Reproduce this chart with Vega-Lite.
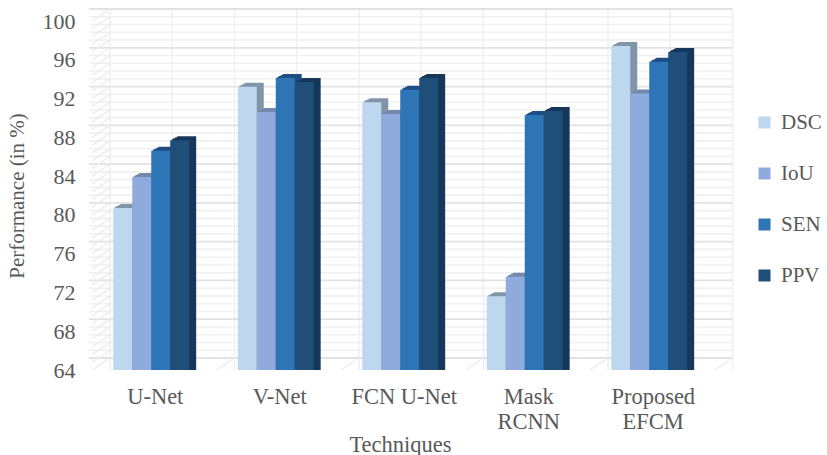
{
  "$schema": "https://vega.github.io/schema/vega-lite/v6.json",
  "width": 622.5,
  "height": 349,
  "padding": {"left": 89, "top": 21, "right": 115.5, "bottom": 85},
  "autosize": {"type": "none"},
  "background": "white",
  "config": {
    "view": {"stroke": null},
    "font": "Liberation Serif",
    "axis": {"labelFont": "Liberation Serif", "titleFont": "Liberation Serif", "labelColor": "#595959", "titleColor": "#595959", "titleFontWeight": "normal", "domain": false, "ticks": false, "grid": false},
    "axisY": {"labelOverlap": false, "labelFontSize": 22, "labelPadding": 14, "titleFontSize": 21, "titleX": -62}
  },
  "datasets": {
    "scores": [
      {"technique": "U-Net", "metric": "DSC", "score": 80.4},
      {"technique": "U-Net", "metric": "IoU", "score": 83.6},
      {"technique": "U-Net", "metric": "SEN", "score": 86.3},
      {"technique": "U-Net", "metric": "PPV", "score": 87.4},
      {"technique": "V-Net", "metric": "DSC", "score": 92.9},
      {"technique": "V-Net", "metric": "IoU", "score": 90.3},
      {"technique": "V-Net", "metric": "SEN", "score": 93.8},
      {"technique": "V-Net", "metric": "PPV", "score": 93.4},
      {"technique": "FCN U-Net", "metric": "DSC", "score": 91.3},
      {"technique": "FCN U-Net", "metric": "IoU", "score": 90.1},
      {"technique": "FCN U-Net", "metric": "SEN", "score": 92.6},
      {"technique": "FCN U-Net", "metric": "PPV", "score": 93.8},
      {"technique": "Mask RCNN", "metric": "DSC", "score": 71.3},
      {"technique": "Mask RCNN", "metric": "IoU", "score": 73.3},
      {"technique": "Mask RCNN", "metric": "SEN", "score": 90.0},
      {"technique": "Mask RCNN", "metric": "PPV", "score": 90.4},
      {"technique": "Proposed EFCM", "metric": "DSC", "score": 97.1},
      {"technique": "Proposed EFCM", "metric": "IoU", "score": 92.2},
      {"technique": "Proposed EFCM", "metric": "SEN", "score": 95.5},
      {"technique": "Proposed EFCM", "metric": "PPV", "score": 96.5}
    ]
  },
  "data": {"name": "scores"},
  "resolve": {"scale": {"x": "independent", "xOffset": "independent"}, "axis": {"x": "independent"}},
  "layer": [
    {
      "data": {"values": [{"v": 64.8}, {"v": 65.6}, {"v": 66.4}, {"v": 67.2}, {"v": 68.8}, {"v": 69.6}, {"v": 70.4}, {"v": 71.2}, {"v": 72.8}, {"v": 73.6}, {"v": 74.4}, {"v": 75.2}, {"v": 76.8}, {"v": 77.6}, {"v": 78.4}, {"v": 79.2}, {"v": 80.8}, {"v": 81.6}, {"v": 82.4}, {"v": 83.2}, {"v": 84.8}, {"v": 85.6}, {"v": 86.4}, {"v": 87.2}, {"v": 88.8}, {"v": 89.6}, {"v": 90.4}, {"v": 91.2}, {"v": 92.8}, {"v": 93.6}, {"v": 94.4}, {"v": 95.2}, {"v": 96.8}, {"v": 97.6}, {"v": 98.4}, {"v": 99.2}]},
      "mark": {"type": "rule", "color": "#f0f0f0", "strokeWidth": 1.6, "xOffset": 21, "yOffset": -12},
      "encoding": {
        "y": {"field": "v", "type": "quantitative", "scale": {"domain": [64, 100], "nice": false}, "axis": {"values": [64, 68, 72, 76, 80, 84, 88, 92, 96, 100], "title": "Performance (in %)"}}
      }
    },
    {
      "data": {"values": [{"g": 0}, {"g": 1}, {"g": 2}, {"g": 3}, {"g": 4}, {"g": 5}, {"g": 6}, {"g": 7}, {"g": 8}, {"g": 9}, {"g": 10}]},
      "mark": {"type": "rule", "color": "#f0f0f0", "strokeWidth": 1.6, "xOffset": 21, "yOffset": -12},
      "encoding": {
        "x": {"field": "g", "type": "quantitative", "scale": {"domain": [0, 10]}, "axis": null}
      }
    },
    {
      "data": {"values": [{"v": 64}, {"v": 68}, {"v": 72}, {"v": 76}, {"v": 80}, {"v": 84}, {"v": 88}, {"v": 92}, {"v": 96}, {"v": 100}]},
      "mark": {"type": "rule", "color": "#e2e2e2", "strokeWidth": 1.8, "xOffset": 21, "yOffset": -12},
      "encoding": {
        "y": {"field": "v", "type": "quantitative", "scale": {"domain": [64, 100], "nice": false}, "axis": {"values": [64, 68, 72, 76, 80, 84, 88, 92, 96, 100], "title": "Performance (in %)"}}
      }
    },
    {
      "data": {"values": [
        {"g": 0.05, "gb": 0.337, "v": 64, "vb": 65.24}, {"g": 0.05, "gb": 0.337, "v": 64.8, "vb": 66.04}, {"g": 0.05, "gb": 0.337, "v": 65.6, "vb": 66.84}, {"g": 0.05, "gb": 0.337, "v": 66.4, "vb": 67.64}, {"g": 0.05, "gb": 0.337, "v": 67.2, "vb": 68.44},
        {"g": 0.05, "gb": 0.337, "v": 68, "vb": 69.24}, {"g": 0.05, "gb": 0.337, "v": 68.8, "vb": 70.04}, {"g": 0.05, "gb": 0.337, "v": 69.6, "vb": 70.84}, {"g": 0.05, "gb": 0.337, "v": 70.4, "vb": 71.64}, {"g": 0.05, "gb": 0.337, "v": 71.2, "vb": 72.44},
        {"g": 0.05, "gb": 0.337, "v": 72, "vb": 73.24}, {"g": 0.05, "gb": 0.337, "v": 72.8, "vb": 74.04}, {"g": 0.05, "gb": 0.337, "v": 73.6, "vb": 74.84}, {"g": 0.05, "gb": 0.337, "v": 74.4, "vb": 75.64}, {"g": 0.05, "gb": 0.337, "v": 75.2, "vb": 76.44},
        {"g": 0.05, "gb": 0.337, "v": 76, "vb": 77.24}, {"g": 0.05, "gb": 0.337, "v": 76.8, "vb": 78.04}, {"g": 0.05, "gb": 0.337, "v": 77.6, "vb": 78.84}, {"g": 0.05, "gb": 0.337, "v": 78.4, "vb": 79.64}, {"g": 0.05, "gb": 0.337, "v": 79.2, "vb": 80.44},
        {"g": 0.05, "gb": 0.337, "v": 80, "vb": 81.24}, {"g": 0.05, "gb": 0.337, "v": 80.8, "vb": 82.04}, {"g": 0.05, "gb": 0.337, "v": 81.6, "vb": 82.84}, {"g": 0.05, "gb": 0.337, "v": 82.4, "vb": 83.64}, {"g": 0.05, "gb": 0.337, "v": 83.2, "vb": 84.44},
        {"g": 0.05, "gb": 0.337, "v": 84, "vb": 85.24}, {"g": 0.05, "gb": 0.337, "v": 84.8, "vb": 86.04}, {"g": 0.05, "gb": 0.337, "v": 85.6, "vb": 86.84}, {"g": 0.05, "gb": 0.337, "v": 86.4, "vb": 87.64}, {"g": 0.05, "gb": 0.337, "v": 87.2, "vb": 88.44},
        {"g": 0.05, "gb": 0.337, "v": 88, "vb": 89.24}, {"g": 0.05, "gb": 0.337, "v": 88.8, "vb": 90.04}, {"g": 0.05, "gb": 0.337, "v": 89.6, "vb": 90.84}, {"g": 0.05, "gb": 0.337, "v": 90.4, "vb": 91.64}, {"g": 0.05, "gb": 0.337, "v": 91.2, "vb": 92.44},
        {"g": 0.05, "gb": 0.337, "v": 92, "vb": 93.24}, {"g": 0.05, "gb": 0.337, "v": 92.8, "vb": 94.04}, {"g": 0.05, "gb": 0.337, "v": 93.6, "vb": 94.84}, {"g": 0.05, "gb": 0.337, "v": 94.4, "vb": 95.64}, {"g": 0.05, "gb": 0.337, "v": 95.2, "vb": 96.44},
        {"g": 0.05, "gb": 0.337, "v": 96, "vb": 97.24}, {"g": 0.05, "gb": 0.337, "v": 96.8, "vb": 98.04}, {"g": 0.05, "gb": 0.337, "v": 97.6, "vb": 98.84}, {"g": 0.05, "gb": 0.337, "v": 98.4, "vb": 99.64}, {"g": 0.05, "gb": 0.337, "v": 99.2, "vb": 100.44},
        {"g": 0.05, "gb": 0.337, "v": 100, "vb": 101.24},
        {"g": 1.05, "gb": 1.337, "v": 64, "vb": 65.24}, {"g": 2.05, "gb": 2.337, "v": 64, "vb": 65.24}, {"g": 3.05, "gb": 3.337, "v": 64, "vb": 65.24}, {"g": 4.05, "gb": 4.337, "v": 64, "vb": 65.24}, {"g": 5.05, "gb": 5.337, "v": 64, "vb": 65.24},
        {"g": 6.05, "gb": 6.337, "v": 64, "vb": 65.24}, {"g": 7.05, "gb": 7.337, "v": 64, "vb": 65.24}, {"g": 8.05, "gb": 8.337, "v": 64, "vb": 65.24}, {"g": 9.05, "gb": 9.337, "v": 64, "vb": 65.24}, {"g": 10.05, "gb": 10.337, "v": 64, "vb": 65.24}
      ]},
      "mark": {"type": "rule", "color": "#ececec", "strokeWidth": 1.4},
      "encoding": {
        "x": {"field": "g", "type": "quantitative", "scale": {"domain": [0, 10]}, "axis": null},
        "x2": {"field": "gb"},
        "y": {"field": "v", "type": "quantitative", "scale": {"domain": [64, 100], "nice": false}, "axis": {"values": [64, 68, 72, 76, 80, 84, 88, 92, 96, 100], "title": "Performance (in %)"}},
        "y2": {"field": "vb"}
      }
    },
    {
      "mark": {"type": "bar", "yOffset": -7},
      "encoding": {
        "x": {"field": "technique", "type": "nominal", "sort": null, "scale": {"paddingInner": 0.39, "paddingOuter": 0.195}, "axis": null},
        "xOffset": {"field": "metric", "type": "nominal", "sort": ["DSC", "IoU", "SEN", "PPV"], "scale": {"range": [7, 82.9]}},
        "y": {"field": "score", "type": "quantitative", "stack": null, "scale": {"domain": [64, 100], "nice": false}, "axis": {"values": [64, 68, 72, 76, 80, 84, 88, 92, 96, 100], "title": "Performance (in %)"}},
        "y2": {"datum": 64},
        "color": {"field": "metric", "type": "nominal", "legend": null, "scale": {"domain": ["PPV", "SEN", "IoU", "DSC"], "range": ["#17375a", "#1f4e85", "#7488ad", "#8195aa"]}}
      }
    },
    {
      "mark": {"type": "bar", "yOffset": -6},
      "encoding": {
        "x": {"field": "technique", "type": "nominal", "sort": null, "scale": {"paddingInner": 0.39, "paddingOuter": 0.195}, "axis": null},
        "xOffset": {"field": "metric", "type": "nominal", "sort": ["DSC", "IoU", "SEN", "PPV"], "scale": {"range": [5, 80.9]}},
        "y": {"field": "score", "type": "quantitative", "stack": null, "scale": {"domain": [64, 100], "nice": false}, "axis": {"values": [64, 68, 72, 76, 80, 84, 88, 92, 96, 100], "title": "Performance (in %)"}},
        "y2": {"datum": 64},
        "color": {"field": "metric", "type": "nominal", "legend": null}
      }
    },
    {
      "mark": {"type": "bar", "yOffset": -5},
      "encoding": {
        "x": {"field": "technique", "type": "nominal", "sort": null, "scale": {"paddingInner": 0.39, "paddingOuter": 0.195}, "axis": null},
        "xOffset": {"field": "metric", "type": "nominal", "sort": ["DSC", "IoU", "SEN", "PPV"], "scale": {"range": [3, 78.9]}},
        "y": {"field": "score", "type": "quantitative", "stack": null, "scale": {"domain": [64, 100], "nice": false}, "axis": {"values": [64, 68, 72, 76, 80, 84, 88, 92, 96, 100], "title": "Performance (in %)"}},
        "y2": {"datum": 64},
        "color": {"field": "metric", "type": "nominal", "legend": null}
      }
    },
    {
      "mark": {"type": "bar", "yOffset": -4},
      "encoding": {
        "x": {"field": "technique", "type": "nominal", "sort": null, "scale": {"paddingInner": 0.39, "paddingOuter": 0.195}, "axis": null},
        "xOffset": {"field": "metric", "type": "nominal", "sort": ["DSC", "IoU", "SEN", "PPV"], "scale": {"range": [1.5, 77.4]}},
        "y": {"field": "score", "type": "quantitative", "stack": null, "scale": {"domain": [64, 100], "nice": false}, "axis": {"values": [64, 68, 72, 76, 80, 84, 88, 92, 96, 100], "title": "Performance (in %)"}},
        "y2": {"datum": 64},
        "color": {"field": "metric", "type": "nominal", "legend": null}
      }
    },
    {
      "mark": {"type": "bar", "yOffset": -3},
      "encoding": {
        "x": {"field": "technique", "type": "nominal", "sort": null, "scale": {"paddingInner": 0.39, "paddingOuter": 0.195},
          "axis": {"labelAngle": 0, "labelFontSize": 22.5, "labelOffset": 4, "labelPadding": 15, "labelLineHeight": 25, "labelAlign": "center",
            "labelExpr": "datum.label == 'Mask RCNN' ? ['Mask', 'RCNN'] : datum.label == 'Proposed EFCM' ? ['Proposed', 'EFCM'] : datum.label",
            "title": "Techniques", "titleFontSize": 22.5, "titleY": 63, "titleX": 311}},
        "xOffset": {"field": "metric", "type": "nominal", "sort": ["DSC", "IoU", "SEN", "PPV"]},
        "y": {"field": "score", "type": "quantitative", "stack": null, "scale": {"domain": [64, 100], "nice": false}, "axis": {"values": [64, 68, 72, 76, 80, 84, 88, 92, 96, 100], "title": "Performance (in %)"}},
        "y2": {"datum": 64},
        "fill": {"field": "metric", "type": "nominal",
          "scale": {"domain": ["DSC", "IoU", "SEN", "PPV"], "range": ["#bdd7ee", "#8faadc", "#2e75b6", "#1f4e79"]},
          "legend": {"title": null, "orient": "none", "legendX": 665, "legendY": 91, "symbolType": "square", "symbolSize": 144, "labelFontSize": 21, "labelFont": "Liberation Serif", "labelColor": "#595959", "labelOffset": 6, "rowPadding": 29}}
      }
    }
  ]
}
